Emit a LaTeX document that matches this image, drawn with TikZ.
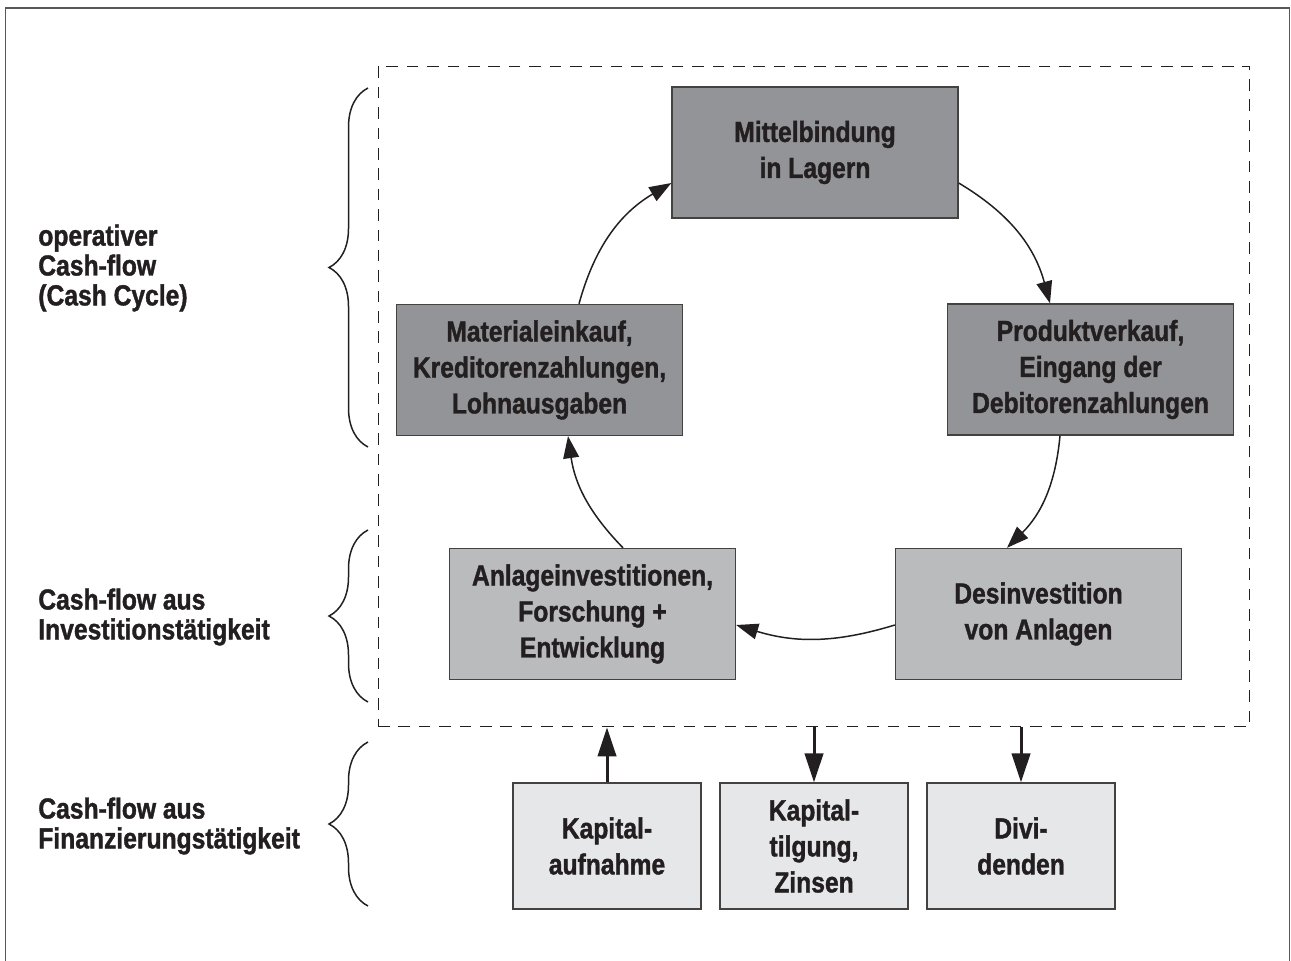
\documentclass[tikz,border=0pt]{standalone}
\usepackage{fontspec}
\newfontfamily\cfont{Liberation Sans}[FakeStretch=0.85,BoldFeatures={FakeBold=1.3}]
\usetikzlibrary{arrows.meta,calc,decorations.pathreplacing}
\definecolor{darkbox}{RGB}{147,148,151}
\definecolor{midbox}{RGB}{186,187,189}
\definecolor{lightbox}{RGB}{230,231,232}
\definecolor{ink}{RGB}{35,31,32}
\tikzset{
  txt/.style={text=ink,align=center,font=\cfont\bfseries\fontsize{16.5}{20.5}\selectfont},
  box/.style={txt,draw=ink!85,line width=0.8pt,minimum width=5.72cm,minimum height=2.62cm},
  finbox/.style={txt,draw=ink!85,line width=0.8pt,fill=lightbox,minimum width=3.76cm,minimum height=2.52cm},
  lbl/.style={text=ink,align=left,anchor=west,inner sep=0pt,font=\cfont\bfseries\fontsize{16.5}{17}\selectfont},
  flow/.style={draw=ink,line width=0.85pt,-{Triangle[length=12.5pt,width=9pt]}},
  fin/.style={draw=ink,line width=1.7pt,-{Triangle[length=16.5pt,width=10.5pt]}},
  brc/.style={draw=ink,line width=0.85pt,decorate,decoration={brace,amplitude=0.78cm}}
}
\begin{document}
\begin{tikzpicture}[x=0.02cm,y=-0.02cm]
      \useasboundingbox (0,0) rectangle (1291,960);
      \draw[ink!75,line width=1.1pt] (5.5,965) |- (1289.5,8) -- (1289.5,965);
      % dashed area of the cash cycle
      \node[draw=ink,dashed,line width=0.6pt,dash pattern=on 6.6pt off 5pt,minimum width=17.44cm,minimum height=13.22cm] (zone) at (814,396.5) {};
      % cycle boxes
      \node[box,fill=darkbox] (mittel) at (815,152.5) {Mittelbindung\\in Lagern};
      \node[box,fill=darkbox] (produkt) at (1090.5,369.5) {Produktverkauf,\\Eingang der\\Debitorenzahlungen};
      \node[box,fill=darkbox] (material) at (539.5,370) {Materialeinkauf,\\Kreditorenzahlungen,\\Lohnausgaben};
      \node[box,fill=midbox] (anlage) at (592.5,614) {Anlageinvestitionen,\\Forschung +\\Entwicklung};
      \node[box,fill=midbox] (desinv) at (1038.5,614) {Desinvestition\\von Anlagen};
      % financing boxes
      \node[finbox] (kapauf) at (607,846) {Kapital-\\aufnahme};
      \node[finbox] (kaptilg) at (814,846) {Kapital-\\tilgung,\\Zinsen};
      \node[finbox] (divid) at (1021,846) {Divi-\\denden};
      % cycle arrows
      \draw[flow] ($(material.north)+(39.5,0)$) to[bend left=22] ($(mittel.west)+(0,30.5)$);
      \draw[flow] ($(mittel.east)+(0,30.5)$) to[bend left=22] ($(produkt.north)+(-40.5,0)$);
      \draw[flow] ($(produkt.south)+(-30.5,0)$) to[bend left=20] ($(desinv.north)+(-31.5,0)$);
      \draw[flow] ($(desinv.west)+(0,11)$) to[bend left=17] ($(anlage.east)+(0,11)$);
      \draw[flow] ($(anlage.north)+(30.5,0)$) to[bend left=18] ($(material.south)+(28.5,0)$);
      % financing arrows
      \draw[fin] (kapauf.north) -- (kapauf.north |- zone.south);
      \draw[fin] (kaptilg.north |- zone.south) -- (kaptilg.north);
      \draw[fin] (divid.north |- zone.south) -- (divid.north);
      % braces and labels
      \draw[brc] (368,447) -- (368,88);
      \draw[brc] (368,702) -- (368,530);
      \draw[brc] (368,906) -- (368,742);
      \node[lbl] (oper) at (38,268) {operativer\\Cash-flow\\(Cash Cycle)};
      \node[lbl] (invest) at (38,617) {Cash-flow aus\\Investitionstätigkeit};
      \node[lbl] (finanz) at (38,826) {Cash-flow aus\\Finanzierungstätigkeit};
\end{tikzpicture}
\end{document}
